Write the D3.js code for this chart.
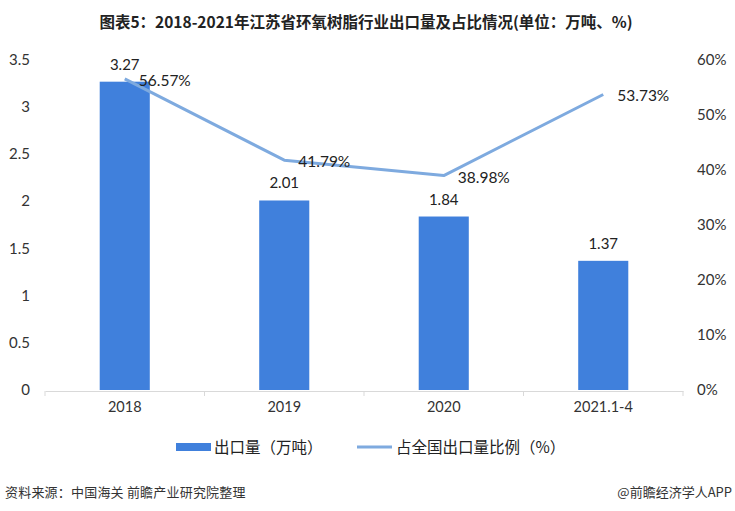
<!DOCTYPE html>
<html><head><meta charset="utf-8">
<script src="https://cdn.jsdelivr.net/npm/d3@7"></script>
<style>body{margin:0;background:#fff}svg{display:block}</style>
</head><body>
<script>
const categories = ["2018","2019","2020","2021.1-4"];
const exportVolume = [3.27, 2.01, 1.84, 1.37];
const shareRatio = [56.57, 41.79, 38.98, 53.73];
const leftTicks = [0, 0.5, 1, 1.5, 2, 2.5, 3, 3.5];
const rightTicks = [0, 10, 20, 30, 40, 50, 60];

const W = 735, H = 511;
const svg = d3.select("body").append("svg").attr("width", W).attr("height", H);
const font = "Lato, 'Noto Sans CJK SC', sans-serif";
const cjk = "'Noto Sans CJK SC', sans-serif";

const x = d3.scaleBand().domain(categories).range([45, 683]).paddingInner(0.686).paddingOuter(0.343);
const yL = d3.scaleLinear().domain([0, 3.5]).range([390, 60]);
const yR = d3.scaleLinear().domain([0, 60]).range([390, 60]);

svg.append("text").attr("x", 366).attr("y", 28).attr("text-anchor", "middle")
  .attr("font-family", cjk).attr("font-weight", "bold").attr("font-size", 15.5)
  .attr("fill", "#222").text("图表5：2018-2021年江苏省环氧树脂行业出口量及占比情况(单位：万吨、%)");

// left axis labels
svg.append("g").selectAll("text").data(leftTicks).join("text")
  .attr("x", 30).attr("y", d => yL(d) + 5).attr("text-anchor", "end")
  .attr("font-family", font).attr("font-size", 15).attr("fill", "#333").text(d => d);
// right axis labels
svg.append("g").selectAll("text").data(rightTicks).join("text")
  .attr("x", 697).attr("y", d => yR(d) + 5).attr("text-anchor", "start")
  .attr("font-family", font).attr("font-size", 15).attr("fill", "#333").text(d => d + "%");

// x axis
const xAxis = d3.axisBottom(x).tickSize(0).tickFormat(d => d);
const gx = svg.append("g").attr("transform", "translate(0,391)").call(xAxis);
gx.select(".domain").attr("stroke", "#d9d9d9");
gx.selectAll("text").attr("font-family", font).attr("font-size", 14.5).attr("fill", "#333").attr("dy", "1.25em");
const bounds = categories.map(c => x(c) - x.step() * x.paddingInner() / 2);
bounds.push(683);
gx.selectAll(".bnd").data(bounds).join("line").attr("class", "bnd")
  .attr("x1", d => d).attr("x2", d => d).attr("y1", 0).attr("y2", 5).attr("stroke", "#d9d9d9");

// bars
svg.append("g").selectAll("rect").data(exportVolume).join("rect")
  .attr("x", (d, i) => x(categories[i])).attr("width", x.bandwidth())
  .attr("y", d => yL(d)).attr("height", d => yL(0) - yL(d)).attr("fill", "#4080DC");
svg.append("g").selectAll("text").data(exportVolume).join("text")
  .attr("x", (d, i) => x(categories[i]) + x.bandwidth() / 2).attr("y", d => yL(d) - 12)
  .attr("text-anchor", "middle").attr("font-family", font).attr("font-size", 15).attr("fill", "#222")
  .text(d => d.toFixed(2));

// line
const cx = i => x(categories[i]) + x.bandwidth() / 2;
const line = d3.line().x((d, i) => cx(i)).y(d => yR(d));
svg.append("path").datum(shareRatio).attr("d", line).attr("fill", "none")
  .attr("stroke", "#7EAADF").attr("stroke-width", 3).attr("stroke-linejoin", "round");
svg.append("g").selectAll("text").data(shareRatio).join("text")
  .attr("x", (d, i) => cx(i) + 14).attr("y", d => yR(d) + 7)
  .attr("font-family", font).attr("font-size", 15.5).attr("fill", "#222")
  .text(d => d.toFixed(2) + "%");

// legend
svg.append("rect").attr("x", 176).attr("y", 443).attr("width", 35).attr("height", 8).attr("fill", "#4080DC");
svg.append("text").attr("x", 214).attr("y", 453).attr("font-family", cjk).attr("font-size", 15.5).attr("fill", "#222").text("出口量（万吨）");
svg.append("line").attr("x1", 357).attr("x2", 392).attr("y1", 447).attr("y2", 447).attr("stroke", "#7EAADF").attr("stroke-width", 3);
svg.append("text").attr("x", 396).attr("y", 453).attr("font-family", cjk).attr("font-size", 15.5).attr("fill", "#222").text("占全国出口量比例（%）");

// footer
svg.append("text").attr("x", 5).attr("y", 497).attr("font-family", cjk).attr("font-size", 13).attr("letter-spacing", 0.2).attr("fill", "#333").text("资料来源：中国海关 前瞻产业研究院整理");
svg.append("text").attr("x", 732).attr("y", 497).attr("text-anchor", "end").attr("font-family", cjk).attr("font-size", 13).attr("fill", "#333").text("@前瞻经济学人APP");
</script>
</body></html>
